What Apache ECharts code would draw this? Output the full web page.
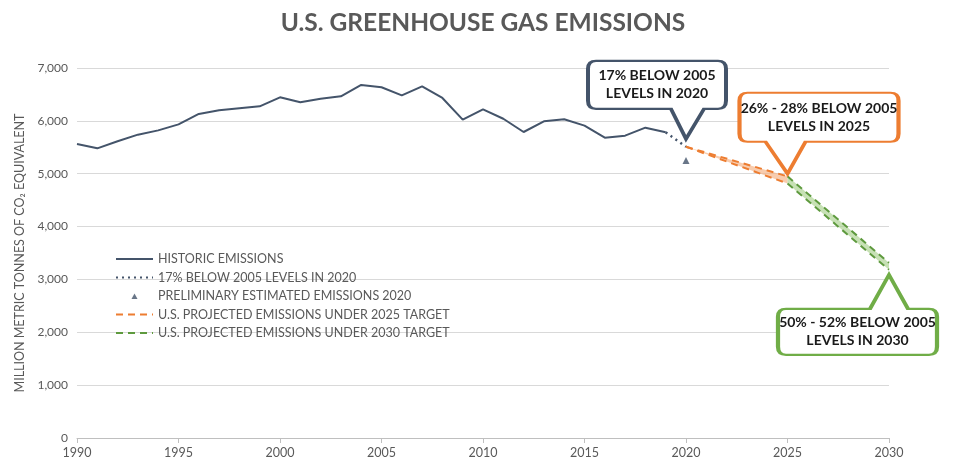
<!DOCTYPE html>
<html>
<head>
<meta charset="utf-8">
<title>U.S. Greenhouse Gas Emissions</title>
<script src="https://cdn.jsdelivr.net/npm/echarts@6.0.0/dist/echarts.min.js"></script>
<style>
  html, body { margin: 0; padding: 0; background: #fff; }
  #chart { width: 966px; height: 475px; }
</style>
</head>
<body>
<div id="chart"></div>
<script>
// ── Datos ───────────────────────────────────────────────────────────────
const histYears = [1990, 1991, 1992, 1993, 1994, 1995, 1996, 1997, 1998, 1999,
                   2000, 2001, 2002, 2003, 2004, 2005, 2006, 2007, 2008, 2009,
                   2010, 2011, 2012, 2013, 2014, 2015, 2016, 2017, 2018, 2019];
const histValues = [5562, 5480, 5615, 5739, 5820, 5934, 6131, 6199, 6237, 6275,
                    6445, 6351, 6420, 6465, 6680, 6635, 6483, 6654, 6433, 6023,
                    6218, 6040, 5789, 5991, 6029, 5909, 5682, 5720, 5871, 5783];

const goal2020Years  = [2019, 2020];
const goal2020Values = [5783, 5510];

const prelimYears  = [2020];
const prelimValues = [5250];

const proj2025Years = [2020, 2025];
const proj2025High  = [5510, 4950];
const proj2025Low   = [5510, 4815];

const proj2030Years = [2025, 2030];
const proj2030High  = [4950, 3314];
const proj2030Low   = [4815, 3182];

const calloutCoords = [[2020, 5660], [2025, 5000], [2030, 3087]];
const calloutTexts  = [
  '17% BELOW 2005\nLEVELS IN 2020',
  '26% - 28% BELOW 2005\nLEVELS IN 2025',
  '50% - 52% BELOW 2005\nLEVELS IN 2030',
];

const NAMES = [
  'HISTORIC EMISSIONS',
  '17% BELOW 2005 LEVELS IN 2020',
  'PRELIMINARY ESTIMATED EMISSIONS 2020',
  'U.S. PROJECTED EMISSIONS UNDER 2025 TARGET',
  'U.S. PROJECTED EMISSIONS UNDER 2030 TARGET',
];

// ── Colores ─────────────────────────────────────────────────────────────
const C_DARK   = '#44546A';
const C_ORANGE = '#ED7D31';
const C_ORFILL = 'rgba(244,177,131,0.65)';
const C_GREEN  = '#70AD47';
const C_GRLINE = '#5E9A3E';
const C_GRFILL = 'rgba(169,209,142,0.65)';
const C_TEXT   = '#595959';
const FONT     = 'Lato, "Open Sans", sans-serif';

const pairs = (xs, ys) => xs.map((x, i) => [x, ys[i]]);

// ── Formas de los globos (tamaño en px) ────────────────────────────────
const BUBBLE_DOWN_1 = 'path://M8,0 L130,0 Q138,0 138,8 L138,40 Q138,48 130,48 L116,48 L98,78 L83,48 L8,48 Q0,48 0,40 L0,8 Q0,0 8,0 Z';
const BUBBLE_DOWN_2 = 'path://M8,0 L151,0 Q159,0 159,8 L159,41 Q159,49 151,49 L66,49 L48,81 L26,49 L8,49 Q0,49 0,41 L0,8 Q0,0 8,0 Z';
const BUBBLE_UP_3   = 'path://M8,34 L92,34 L111,0 L130,34 L151,34 Q159,34 159,42 L159,72 Q159,80 151,80 L8,80 Q0,80 0,72 L0,42 Q0,34 8,34 Z';
// triángulo pequeño dentro de una caja 37x8 (los "M" fijan la caja)
const LEGEND_TRIANGLE = 'path://M0,0 L0,0 M37,8 L37,8 M15.5,7 L18.5,1.5 L21.5,7 Z';

function callout(idx, symbol, size, offset, labelOffset, color) {
  return {
    silent: true,
    animation: false,
    data: [{
      coord: calloutCoords[idx],
      symbol,
      symbolSize: size,
      symbolOffset: offset,
      symbolKeepAspect: false,
      itemStyle: { color: '#fff', borderColor: color, borderWidth: 3 },
      label: {
        show: true,
        position: 'inside',
        offset: labelOffset,
        formatter: calloutTexts[idx],
        color: '#1A1A1A',
        fontFamily: FONT,
        fontWeight: 'bold',
        fontSize: 14,
        lineHeight: 18,
        align: 'center',
      },
    }],
  };
}

// Banda entre dos líneas (polígono por segmento)
function bandSeries(name, xs, lo, hi, fill) {
  const segs = xs.slice(1).map((x, i) => [xs[i], lo[i], hi[i], x, lo[i + 1], hi[i + 1]]);
  return {
    name,
    type: 'custom',
    silent: true,
    z: 1,
    itemStyle: { color: fill },
    data: segs,
    encode: { x: [0, 3], y: [1, 2, 4, 5] },
    renderItem: (params, api) => {
      const a = api.coord([api.value(0), api.value(1)]);
      const b = api.coord([api.value(0), api.value(2)]);
      const c = api.coord([api.value(3), api.value(5)]);
      const d = api.coord([api.value(3), api.value(4)]);
      return {
        type: 'polygon',
        shape: { points: [a, b, c, d] },
        style: { fill },
      };
    },
  };
}

function dashedLine(name, xs, ys, color, extra) {
  return Object.assign({
    name,
    type: 'line',
    data: pairs(xs, ys),
    symbol: 'none',
    z: 3,
    lineStyle: { color, width: 2, type: [7, 5] },
    itemStyle: { color },
  }, extra || {});
}

const hideDot = { opacity: 0 };

const chart = echarts.init(document.getElementById('chart'), null, { renderer: 'canvas' });

chart.setOption({
  animation: false,
  textStyle: { fontFamily: FONT },
  title: {
    text: 'U.S. GREENHOUSE GAS EMISSIONS',
    left: 'center',
    top: 6,
    textStyle: { fontFamily: FONT, fontSize: 24.5, fontWeight: 'bold', color: C_TEXT },
  },
  grid: { left: 77, right: 77, top: 68, bottom: 37, containLabel: false },
  legend: {
    orient: 'vertical',
    left: 115,
    top: 252,
    padding: 0,
    itemWidth: 37,
    itemHeight: 8,
    itemGap: 4.5,
    data: [
      { name: NAMES[0], itemStyle: hideDot },
      { name: NAMES[1], itemStyle: hideDot },
      { name: NAMES[2], icon: LEGEND_TRIANGLE },
      { name: NAMES[3], itemStyle: hideDot },
      { name: NAMES[4], itemStyle: hideDot },
    ],
    textStyle: { color: C_TEXT, fontSize: 12.5, fontFamily: FONT, lineHeight: 14 },
    selectedMode: false,
  },
  xAxis: {
    type: 'value',
    min: 1990,
    max: 2030,
    interval: 5,
    axisLine: { lineStyle: { color: '#BFBFBF' } },
    axisTick: { show: true, length: 5, lineStyle: { color: '#BFBFBF' } },
    axisLabel: { color: C_TEXT, fontSize: 12.5, margin: 8, formatter: v => String(v) },
    splitLine: { show: false },
  },
  yAxis: {
    type: 'value',
    min: 0,
    max: 7000,
    interval: 1000,
    name: 'MILLION METRIC TONNES OF CO\u2082 EQUIVALENT',
    nameLocation: 'middle',
    nameGap: 46,
    nameTextStyle: { color: C_TEXT, fontSize: 12.5, fontFamily: FONT },
    axisLine: { show: false },
    axisTick: { show: false },
    axisLabel: { color: C_TEXT, fontSize: 12, margin: 9, formatter: v => v.toLocaleString('en-US') },
    splitLine: { lineStyle: { color: '#D9D9D9' } },
  },
  series: [
    {
      name: NAMES[0],
      type: 'line',
      data: pairs(histYears, histValues),
      symbol: 'none',
      z: 3,
      lineStyle: { color: C_DARK, width: 2 },
      itemStyle: { color: C_DARK },
    },
    {
      name: NAMES[1],
      type: 'line',
      data: pairs(goal2020Years, goal2020Values),
      symbol: 'none',
      z: 3,
      lineStyle: { color: C_DARK, width: 2.5, type: [2, 4] },
      itemStyle: { color: C_DARK },
      markPoint: callout(0, BUBBLE_DOWN_1, [138, 78], [-29, -39], [0, -15], C_DARK),
    },
    {
      name: NAMES[2],
      type: 'scatter',
      data: pairs(prelimYears, prelimValues),
      symbol: 'triangle',
      symbolSize: 7,
      z: 3,
      itemStyle: { color: C_DARK },
    },
    dashedLine(NAMES[3], proj2025Years, proj2025High, C_ORANGE, {
      markPoint: callout(1, BUBBLE_DOWN_2, [159, 81], [31.5, -40.5], [0, -16], C_ORANGE),
    }),
    dashedLine(NAMES[3], proj2025Years, proj2025Low, C_ORANGE),
    bandSeries('band 2025', proj2025Years, proj2025Low, proj2025High, C_ORFILL),
    dashedLine(NAMES[4], proj2030Years, proj2030High, C_GRLINE, {
      markPoint: callout(2, BUBBLE_UP_3, [159, 80], [-31.5, 40], [0, 17], C_GREEN),
    }),
    dashedLine(NAMES[4], proj2030Years, proj2030Low, C_GRLINE),
    bandSeries('band 2030', proj2030Years, proj2030Low, proj2030High, C_GRFILL),
  ],
});

window.addEventListener('resize', () => chart.resize());
</script>
</body>
</html>
